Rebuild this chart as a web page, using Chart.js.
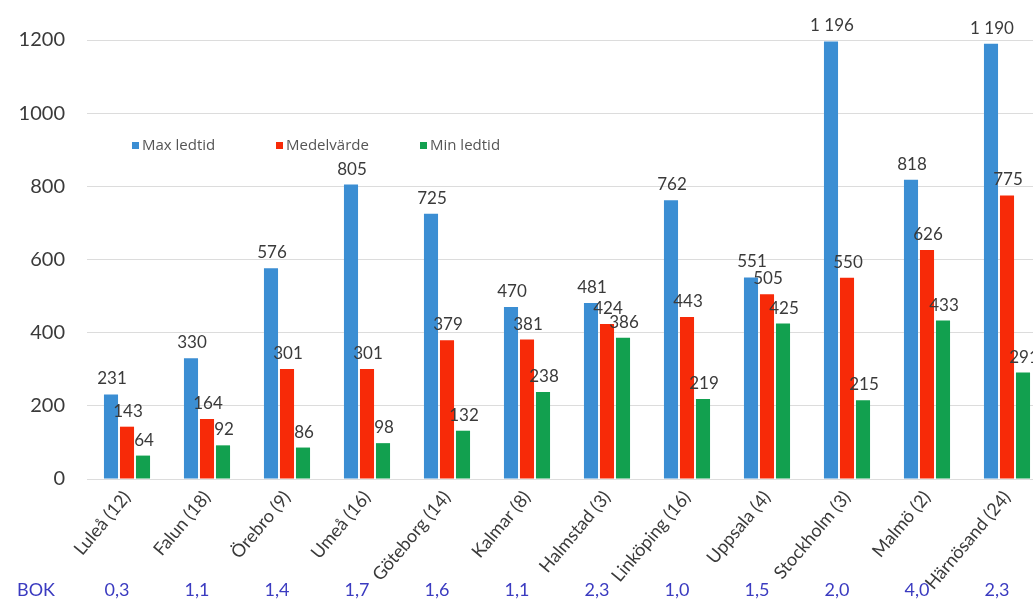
<!DOCTYPE html>
<html>
<head>
<meta charset="utf-8">
<script src="https://cdn.jsdelivr.net/npm/chart.js@4.4.1/dist/chart.umd.min.js"></script>
<style>
    html, body { margin: 0; padding: 0; background: #fff; overflow: hidden; }
    #wrap { width: 1050px; height: 606px; position: relative; }
</style>
</head>
<body>
<div id="wrap"><canvas id="chart"></canvas></div>
<script>
// Data
const cities = ['Luleå (12)', 'Falun (18)', 'Örebro (9)', 'Umeå (16)', 'Göteborg (14)', 'Kalmar (8)',
    'Halmstad (3)', 'Linköping (16)', 'Uppsala (4)', 'Stockholm (3)', 'Malmö (2)', 'Härnösand (24)'];
const maxLedtid = [231, 330, 576, 805, 725, 470, 481, 762, 551, 1196, 818, 1190];
const medelvarde = [143, 164, 301, 301, 379, 381, 424, 443, 505, 550, 626, 775];
const minLedtid = [64, 92, 86, 98, 132, 238, 386, 219, 425, 215, 433, 291];
const bokValues = ['0,3', '1,1', '1,4', '1,7', '1,6', '1,1', '2,3', '1,0', '1,5', '2,0', '4,0', '2,3'];
const seriesNames = ['Max ledtid', 'Medelvärde', 'Min ledtid'];
const seriesColors = ['#3b8ed3', '#f72a08', '#12a04f'];
const yTicks = [0, 200, 400, 600, 800, 1000, 1200];

const fmt = v => v >= 1000 ? Math.floor(v / 1000) + ' ' + String(v % 1000).padStart(3, '0') : String(v);

// value labels above each bar
const valueLabels = {
    id: 'valueLabels',
    afterDatasetsDraw(chart) {
        const ctx = chart.ctx;
        ctx.save();
        ctx.font = '17px Lato';
        ctx.fillStyle = '#3a3a3a';
        ctx.textAlign = 'center';
        ctx.textBaseline = 'alphabetic';
        chart.data.datasets.forEach((ds, di) => {
            chart.getDatasetMeta(di).data.forEach((bar, i) => {
                ctx.fillText(fmt(ds.data[i]), bar.x + 1, bar.y - 10);
            });
        });
        ctx.restore();
    }
};

// legend sits inside the plot area
const innerLegend = {
    id: 'innerLegend',
    afterDraw(chart) {
        const ctx = chart.ctx;
        const area = chart.chartArea;
        ctx.save();
        ctx.font = '15px "Open Sans"';
        ctx.textBaseline = 'middle';
        seriesNames.forEach((name, i) => {
            const x = area.left + 45 + i * 144;
            const y = 146;
            ctx.fillStyle = seriesColors[i];
            ctx.fillRect(x, y - 4, 7, 7);
            ctx.fillStyle = '#555';
            ctx.fillText(name, x + 10, y);
        });
        ctx.restore();
    }
};

// BOK row under the axis labels
const bokRow = {
    id: 'bokRow',
    afterDraw(chart) {
        const ctx = chart.ctx;
        const xs = chart.scales.x;
        ctx.save();
        ctx.font = '18px Lato';
        ctx.fillStyle = '#3b3bc0';
        ctx.textBaseline = 'middle';
        ctx.textAlign = 'left';
        ctx.fillText('BOK', 17, 590);
        ctx.textAlign = 'center';
        bokValues.forEach((v, i) => {
            ctx.fillText(v, xs.getPixelForValue(i) - 10, 590);
        });
        ctx.restore();
    }
};

new Chart(document.getElementById('chart'), {
    type: 'bar',
    data: {
        labels: cities,
        datasets: [maxLedtid, medelvarde, minLedtid].map((d, i) => ({
            label: seriesNames[i],
            data: d,
            backgroundColor: seriesColors[i],
            borderWidth: 0,
            categoryPercentage: 0.6,
            barPercentage: 0.88
        }))
    },
    options: {
        responsive: true,
        maintainAspectRatio: false,
        animation: false,
        layout: { padding: { top: 40, right: 3, left: 0, bottom: 0 } },
        plugins: { legend: { display: false }, tooltip: { enabled: false } },
        scales: {
            x: {
                grid: { display: false, drawTicks: false },
                border: { display: false },
                ticks: {
                    autoSkip: false,
                    minRotation: 50,
                    maxRotation: 50,
                    padding: 8,
                    color: '#3a3a3a',
                    font: { family: 'Lato', size: 18 }
                },
                afterFit(scale) { scale.height = 127; }
            },
            y: {
                min: 0,
                max: 1200,
                afterBuildTicks(scale) { scale.ticks = yTicks.map(v => ({ value: v })); },
                grid: { color: '#dcdcdc', drawTicks: false },
                border: { display: false },
                ticks: {
                    padding: 22,
                    color: '#3a3a3a',
                    font: { family: 'Lato', size: 20 },
                    callback: v => String(v)
                },
                afterFit(scale) { scale.width = 87; }
            }
        }
    },
    plugins: [valueLabels, innerLegend, bokRow]
});
</script>
</body>
</html>
